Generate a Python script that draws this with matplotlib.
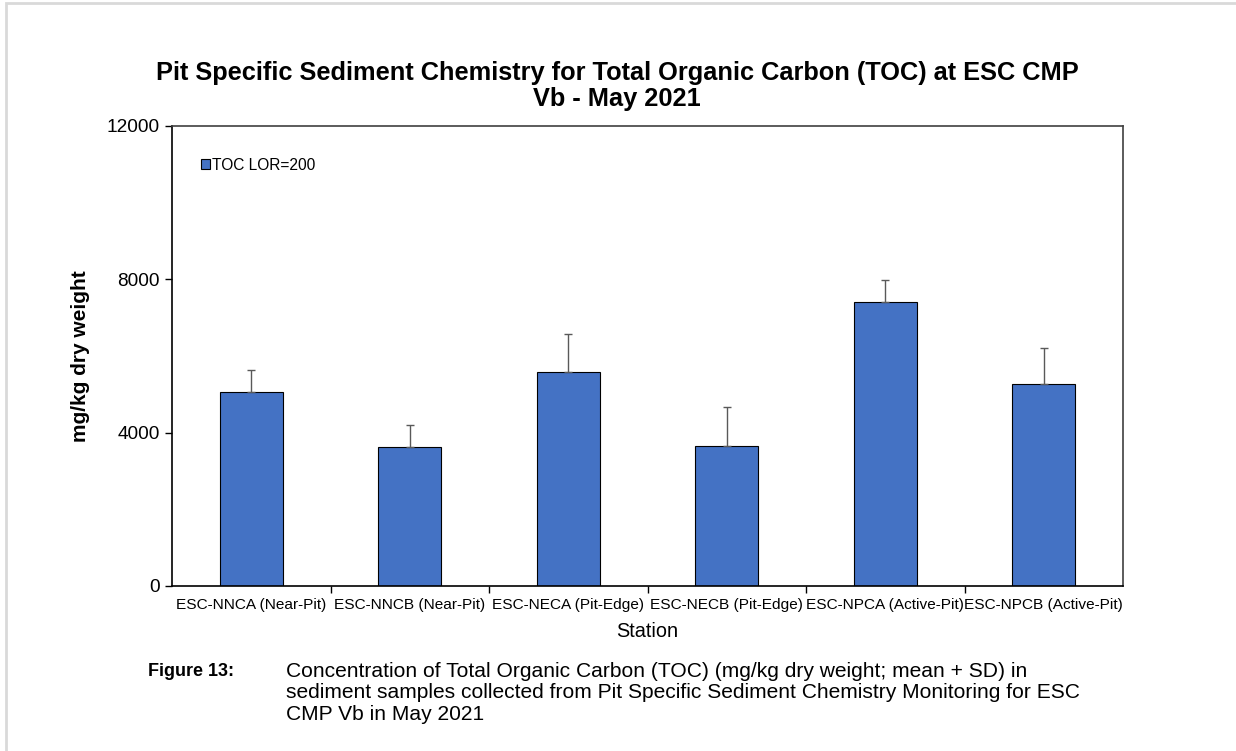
import matplotlib
matplotlib.use("Agg")
import matplotlib.pyplot as plt
from matplotlib.patches import Rectangle

plt.rcParams['font.family'] = ['Liberation Sans', 'DejaVu Sans']

stations = ["ESC-NNCA (Near-Pit)", "ESC-NNCB (Near-Pit)", "ESC-NECA (Pit-Edge)",
            "ESC-NECB (Pit-Edge)", "ESC-NPCA (Active-Pit)", "ESC-NPCB (Active-Pit)"]
toc_mean = [5070, 3635, 5590, 3650, 7415, 5280]
toc_sd = [575, 575, 975, 1010, 565, 940]
yticks = [0, 4000, 8000, 12000]

fig = plt.figure(figsize=(12.36, 7.51), dpi=100)
# light grey page frame
fig.patches.append(Rectangle((6/1236, -0.1), 1.2, 1 - 3/751 + 0.1, transform=fig.transFigure,
                             fill=False, edgecolor='#d9d9d9', linewidth=2))

ax = fig.add_axes([172/1236, 1 - 586/751, (1123-172)/1236, (586-126)/751])
x = list(range(len(stations)))
ax.bar(x, toc_mean, width=0.4, color='#4472C4', edgecolor='black', linewidth=0.8,
       label='TOC LOR=200', zorder=2)
ax.errorbar(x, toc_mean, yerr=[[0]*len(toc_sd), toc_sd], fmt='none', ecolor='#595959',
            elinewidth=1, capsize=3, capthick=1, zorder=3)

ax.set_xlim(-0.5, len(stations) - 0.5)
ax.set_ylim(0, 12000)
ax.set_yticks(yticks)
ax.set_yticklabels([str(v) for v in yticks], fontsize=13.7)
ax.set_xticks([i + 0.5 for i in range(len(stations) - 1)], minor=False)
ax.set_xticklabels([])
ax.set_xticks(x, minor=True)
ax.set_xticklabels(stations, minor=True, fontsize=11.1)
ax.tick_params(axis='x', which='minor', length=0, pad=9)
ax.tick_params(axis='x', which='major', length=5, direction='out', width=1)
ax.tick_params(axis='y', length=5, direction='out', width=1, pad=4)
for s in ax.spines.values():
    s.set_linewidth(1.2)
    s.set_color('black')
ax.spines['top'].set_color('#404040')
ax.spines['right'].set_color('#404040')

ax.set_ylabel('mg/kg dry weight', fontsize=15, fontweight='bold', labelpad=12)
ax.set_xlabel('Station', fontsize=14.3, labelpad=7)
fig.text(617/1236, 1 - 86/751,
         'Pit Specific Sediment Chemistry for Total Organic Carbon (TOC) at ESC CMP\nVb - May 2021',
         fontsize=18.3, fontweight='bold', ha='center', va='center', linespacing=1.13)

leg = ax.legend(loc='upper left', bbox_to_anchor=(0.024, 0.945), frameon=False, fontsize=11.2,
                handlelength=0.55, handleheight=0.55, handletextpad=0.15, borderaxespad=0)

fig.text(148/1236, 1 - 672/751, 'Figure 13:', fontsize=13, fontweight='bold', va='center')
fig.text(286/1236, 1 - 693/751,
         'Concentration of Total Organic Carbon (TOC) (mg/kg dry weight; mean + SD) in\n'
         'sediment samples collected from Pit Specific Sediment Chemistry Monitoring for ESC\n'
         'CMP Vb in May 2021', fontsize=15.1, va='center', linespacing=1.15)

fig.savefig('out.png', dpi=100)
